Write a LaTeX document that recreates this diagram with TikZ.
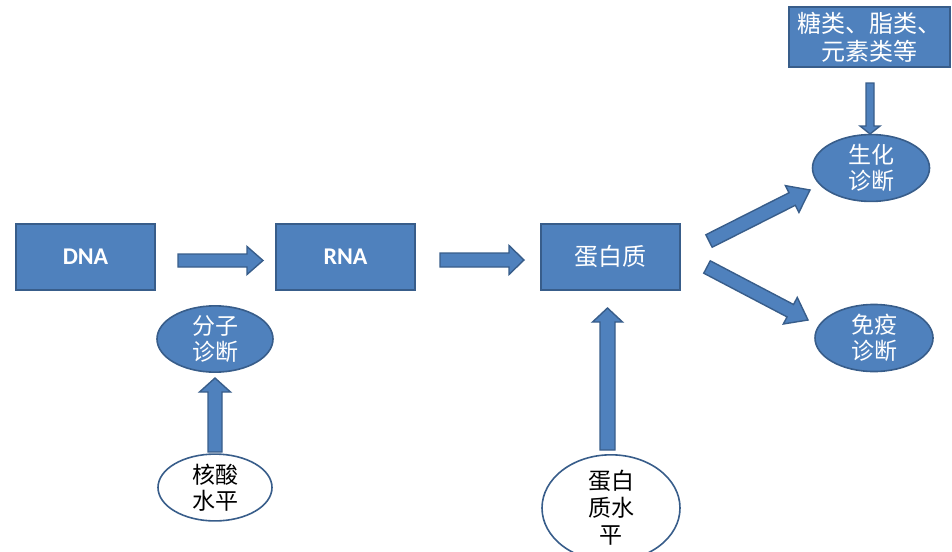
\documentclass[tikz,border=0pt]{standalone}
\usepackage{fontspec}
\setmainfont{Noto Sans CJK SC}
\newfontfamily\latinbold{Carlito}
\usetikzlibrary{shapes.geometric,calc}
\definecolor{bfill}{HTML}{4F81BD}
\definecolor{bdraw}{HTML}{385D8A}
\tikzset{
  bluebox/.style={draw=bdraw, fill=bfill, line width=2pt, minimum width=139pt, minimum height=66pt, inner sep=0pt, text=white},
  blueell/.style={ellipse, draw=bdraw, fill=bfill, line width=1.6pt, inner sep=0pt, text=white, align=center, font=\fontsize{23}{26}\selectfont},
  whiteell/.style={ellipse, draw=bdraw, fill=white, line width=1.6pt, inner sep=0pt, text=black, align=center, font=\fontsize{23}{26}\selectfont},
  barrowstyle/.style={draw=bdraw, fill=bfill, line width=1.4pt, line join=miter},
}
\newcommand{\barrow}[5]{%
  \path[barrowstyle] let \p1=(#1), \p2=(#2),
    \n1={atan2(\y2-\y1,\x2-\x1)}, \n2={veclen(\x2-\x1,\y2-\y1)} in
    ($(#1)+(\n1+90:#3pt)$)
    -- ($(#1)+(\n1:{\n2-#5pt})+(\n1+90:#3pt)$)
    -- ($(#1)+(\n1:{\n2-#5pt})+(\n1+90:#4pt)$)
    -- (#2)
    -- ($(#1)+(\n1:{\n2-#5pt})+(\n1-90:#4pt)$)
    -- ($(#1)+(\n1:{\n2-#5pt})+(\n1-90:#3pt)$)
    -- ($(#1)+(\n1-90:#3pt)$) -- cycle;}
\begin{document}
\begin{tikzpicture}[x=1pt,y=-1pt]
\useasboundingbox (0,0) rectangle (952,551);
% boxes
\node[bluebox, font=\latinbold\bfseries\fontsize{24}{28}\selectfont] (dna) at (85.5,256.5) {DNA};
\node[bluebox, font=\latinbold\bfseries\fontsize{24}{28}\selectfont] (rna) at (345.5,256.5) {RNA};
\node[bluebox, font=\fontsize{24}{28}\selectfont] (prot) at (610.5,256.5) {蛋白质};
\node[bluebox, minimum width=161pt, minimum height=59pt, align=center, font=\fontsize{24}{28}\selectfont] (tang) at (869,37) {糖类、脂类、\\元素类等};
% ellipses
\node[blueell, minimum width=117pt, minimum height=61pt] (sh) at (871,168) {生化\\诊断};
\node[blueell, minimum width=118pt, minimum height=61pt] (my) at (874,338) {免疫\\诊断};
\node[blueell, minimum width=116pt, minimum height=62pt] (fz) at (215,339) {分子\\诊断};
\node[whiteell, minimum width=114pt, minimum height=61pt] (hs) at (215,487.5) {核酸\\水平};
\node[whiteell, minimum width=138pt, minimum height=92pt, font=\fontsize{23}{27}\selectfont] (dbz) at (611,508) {蛋白\\质水\\平};
% arrow end points
\coordinate (a1s) at (178,260.5); \coordinate (a1e) at (263,260.5);
\coordinate (a2s) at (440,260); \coordinate (a2e) at (524,260);
\coordinate (a3s) at (870,83); \coordinate (a3e) at (870,134);
\coordinate (a4s) at (709,241); \coordinate (a4e) at (810,190);
\coordinate (a5s) at (707,267); \coordinate (a5e) at (808,320);
\coordinate (a6s) at (215,452); \coordinate (a6e) at (215,378);
\coordinate (a7s) at (607.5,450); \coordinate (a7e) at (607.5,308);
\barrow{a1s}{a1e}{6.5}{14}{16}
\barrow{a2s}{a2e}{7}{14.5}{15}
\barrow{a3s}{a3e}{4}{10}{8}
\barrow{a4s}{a4e}{7}{15}{20}
\barrow{a5s}{a5e}{7}{15}{20}
\barrow{a6s}{a6e}{7}{15.5}{14}
\barrow{a7s}{a7e}{7.5}{15}{14}
\end{tikzpicture}
\end{document}
